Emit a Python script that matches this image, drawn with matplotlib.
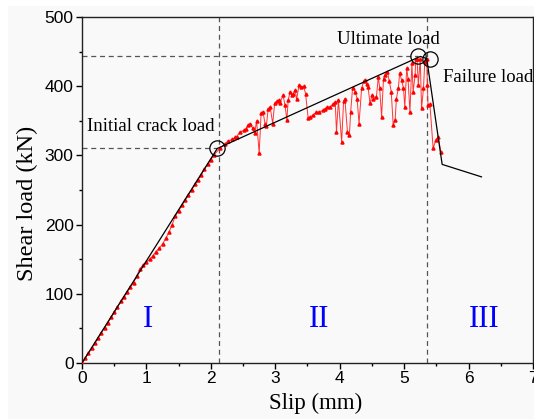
import numpy as np
import matplotlib
matplotlib.use('Agg')
import matplotlib.pyplot as plt
from matplotlib.patches import Rectangle
from matplotlib.ticker import MultipleLocator

# measured load-slip curve (red)
slip = [0.00, 0.05, 0.10, 0.15, 0.20, 0.25, 0.30, 0.35, 0.40, 0.45, 0.50, 0.55, 0.60, 0.65,
        0.70, 0.75, 0.80, 0.85, 0.90, 0.95, 1.00, 1.05, 1.10, 1.15, 1.20, 1.25, 1.30, 1.35,
        1.40, 1.45, 1.50, 1.55, 1.60, 1.65, 1.70, 1.75, 1.80, 1.85, 1.90, 1.95, 2.00, 2.05,
        2.14, 2.22, 2.27, 2.33, 2.38, 2.40, 2.45, 2.51, 2.54, 2.58, 2.61, 2.65, 2.68, 2.71,
        2.75, 2.78, 2.81, 2.84, 2.86, 2.89, 2.92, 2.96, 2.99, 3.02, 3.05, 3.07, 3.12, 3.15,
        3.18, 3.20, 3.23, 3.26, 3.28, 3.31, 3.33, 3.37, 3.40, 3.44, 3.47, 3.51, 3.54, 3.59,
        3.63, 3.68, 3.74, 3.77, 3.81, 3.85, 3.89, 3.93, 3.95, 3.98, 4.03, 4.06, 4.08, 4.12,
        4.15, 4.17, 4.20, 4.24, 4.27, 4.30, 4.34, 4.37, 4.39, 4.42, 4.44, 4.47, 4.50, 4.52,
        4.57, 4.60, 4.62, 4.65, 4.68, 4.70, 4.74, 4.77, 4.80, 4.83, 4.86, 4.88, 4.91, 4.93,
        4.96, 4.99, 5.01, 5.04, 5.06, 5.09, 5.12, 5.14, 5.17, 5.18, 5.20, 5.22, 5.25, 5.27,
        5.30, 5.32, 5.35, 5.36, 5.37, 5.40, 5.45, 5.49, 5.53, 5.57]
load = [0, 7, 14, 21, 29, 36, 44, 51, 58, 66, 73, 81, 89, 96,
        103, 110, 116, 126, 136, 142, 146, 150, 155, 161, 166, 172, 180, 189,
        200, 213, 220, 228, 236, 243, 250, 258, 265, 272, 280, 287, 294, 301,
        310, 317, 321, 323, 326, 327, 334, 336, 338, 344, 346, 339, 332, 350,
        303, 361, 363, 346, 342, 367, 370, 346, 375, 378, 380, 375, 387, 373,
        351, 380, 392, 387, 389, 394, 381, 402, 399, 400, 389, 354, 356, 358,
        362, 363, 365, 367, 370, 370, 374, 377, 334, 380, 320, 378, 382, 334,
        329, 363, 398, 392, 382, 346, 397, 407, 409, 403, 399, 375, 387, 382,
        385, 414, 397, 356, 411, 416, 421, 407, 392, 344, 351, 382, 397, 419,
        409, 397, 370, 426, 411, 363, 433, 392, 416, 440, 440, 402, 440, 368,
        397, 435, 440, 402, 373, 374, 310, 322, 326, 305]

# simplified model (black)
fit_slip = [0.0, 2.1, 5.25, 5.35, 5.59, 6.2]
fit_load = [0, 310, 443, 440, 287, 269]

# key points
crack = (2.1, 310)
ultimate = (5.21, 443)
failure = (5.40, 439)
stage_x = [2.12, 5.36]

fig = plt.figure(figsize=(5.34, 4.19), dpi=100)
fig.patches.append(Rectangle((8 / 534, 0), 1, 413 / 419, transform=fig.transFigure,
                             facecolor='#f9f9f9', edgecolor='none', zorder=-10))
ax = fig.add_axes([82 / 534, 56 / 419, 451 / 534, 346 / 419])
ax.set_facecolor('none')

dash = dict(color='#555555', linestyle=(0, (4, 3)), linewidth=0.9)
for xv in stage_x:
    ax.axvline(xv, **dash)
ax.plot([0, crack[0]], [crack[1], crack[1]], **dash)
ax.plot([0, ultimate[0]], [ultimate[1], ultimate[1]], **dash)

ax.plot(slip, load, color='#ff3333', linewidth=0.7, marker='^', markersize=2.2,
        markerfacecolor='red', markeredgecolor='red', zorder=3)
ax.plot(fit_slip, fit_load, color='black', linewidth=0.9, zorder=4)

for p in (crack, ultimate, failure):
    ax.plot(p[0], p[1], marker='o', markersize=11, markerfacecolor='none',
            markeredgecolor='black', markeredgewidth=0.9, zorder=5)

serif = 'Liberation Serif'
ax.text(0.08, 342, 'Initial crack load', fontsize=13.5, family=serif, va='center', ha='left')
ax.text(4.76, 468, 'Ultimate load', fontsize=13.5, family=serif, va='center', ha='center')
ax.text(5.60, 413, 'Failure load', fontsize=13.5, family=serif, va='center', ha='left')

for lab, xv in zip(['I', 'II', 'III'], [1.03, 3.68, 6.24]):
    ax.text(xv, 63, lab, fontsize=22, family=serif, color='blue', ha='center', va='center')

ax.set_xlim(0, 7)
ax.set_ylim(0, 500)
ax.xaxis.set_major_locator(MultipleLocator(1))
ax.xaxis.set_minor_locator(MultipleLocator(0.5))
ax.yaxis.set_major_locator(MultipleLocator(100))
ax.yaxis.set_minor_locator(MultipleLocator(50))
ax.tick_params(which='major', direction='out', length=4, width=1, labelsize=12.5, pad=2)
ax.tick_params(which='minor', direction='out', length=2.5, width=1)
for t in ax.get_xticklabels() + ax.get_yticklabels():
    t.set_family('Liberation Sans')
for s in ax.spines.values():
    s.set_linewidth(1.0)
    s.set_color('#222222')

ax.set_xlabel('Slip (mm)', fontsize=16.5, family=serif)
ax.set_ylabel('Shear load (kN)', fontsize=17.5, family=serif)
ax.xaxis.set_label_coords(0.519, -0.118)
ax.yaxis.set_label_coords(-0.12, 0.461)
ax.xaxis.label.set_va('center')
ax.yaxis.label.set_va('center')

plt.savefig('out.png', dpi=100)
